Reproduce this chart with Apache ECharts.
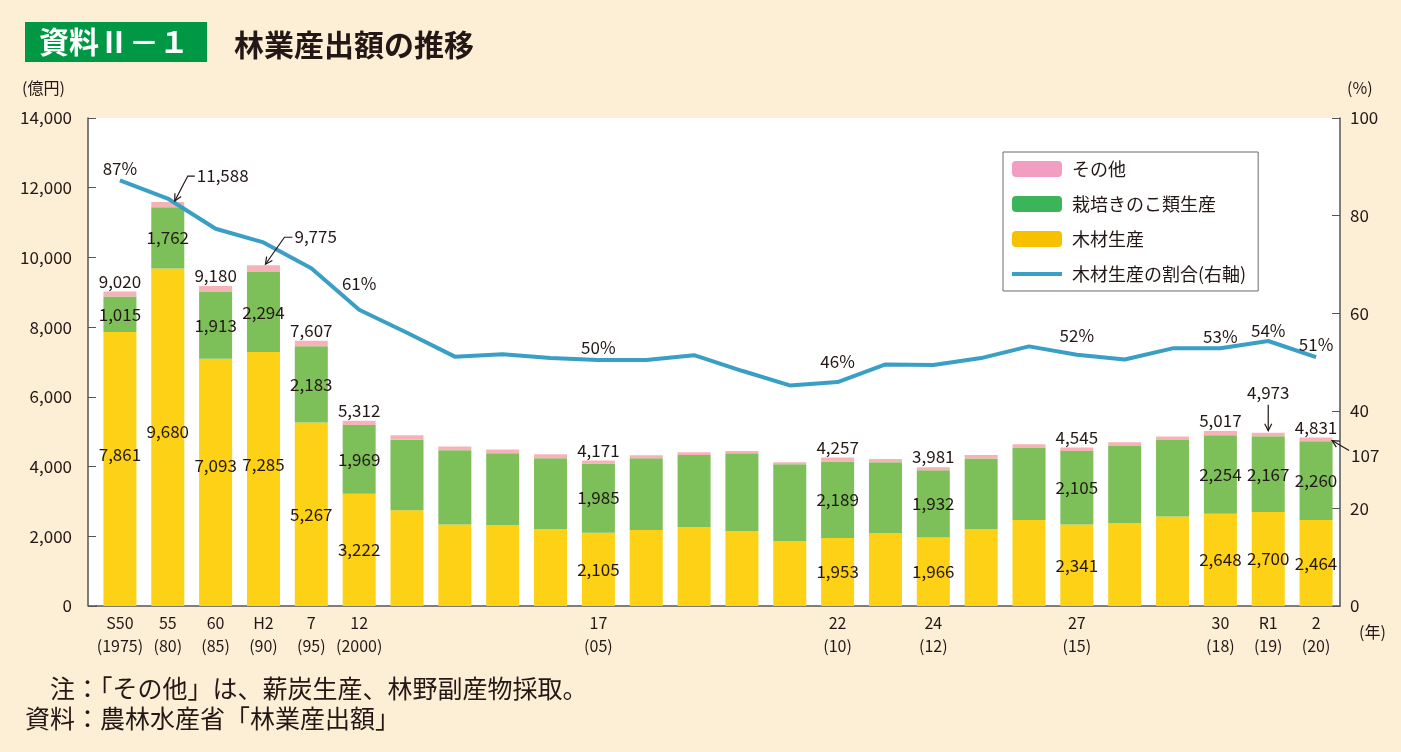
<!DOCTYPE html>
<html>
<head>
<meta charset="utf-8">
<script src="https://cdn.jsdelivr.net/npm/echarts@6/dist/echarts.min.js"></script>
<style>
  html, body { margin: 0; padding: 0; background: #fdeed6; }
  #main { width: 1401px; height: 752px; }
</style>
</head>
<body>
<div id="main"></div>
<script>
// categories (和暦 + 西暦)
var categories = ['S50\n(1975)', '55\n(80)', '60\n(85)', 'H2\n(90)', '7\n(95)', '12\n(2000)',
  '', '', '', '', '17\n(05)', '', '', '', '', '22\n(10)', '', '24\n(12)', '', '', '27\n(15)', '', '',
  '30\n(18)', 'R1\n(19)', '2\n(20)'];

// 億円
var wood = [7861, 9680, 7093, 7285, 5267, 3222, 2745, 2335, 2315, 2209, 2105, 2180, 2267, 2143, 1865,
  1953, 2086, 1966, 2200, 2467, 2341, 2373, 2565, 2648, 2700, 2464];
var mushroom = [1015, 1762, 1913, 2294, 2183, 1969, 2022, 2132, 2066, 2028, 1985, 2057, 2065, 2238, 2200,
  2189, 2036, 1932, 2028, 2066, 2105, 2217, 2197, 2254, 2167, 2260];
var other = [144, 146, 174, 196, 157, 121, 130, 106, 106, 115, 81, 86, 77, 66, 58,
  115, 95, 83, 104, 106, 99, 106, 98, 115, 106, 107];

// 木材生産の割合 (%)
var share = [87.2, 83.5, 77.3, 74.5, 69.2, 60.7, 56.0, 51.1, 51.6, 50.8, 50.4, 50.4, 51.4, 48.2, 45.2,
  45.9, 49.5, 49.4, 50.8, 53.2, 51.5, 50.5, 52.8, 52.8, 54.3, 51.0];

// which bars/points carry labels
var valueLabelIdx = [0, 1, 2, 3, 4, 5, 10, 15, 17, 20, 23, 24, 25];
var totalLabelIdx = [0, 2, 4, 5, 10, 15, 17, 20, 23, 25];
var shareLabelIdx = [0, 5, 10, 15, 20, 23, 24, 25];
// gap between line and its % label
var shareLabelGap = { 0: 3, 5: 18, 10: 4, 15: 12, 20: 11, 23: 3, 24: 2, 25: 4 };

var textColor = '#231815';
var font = '"Noto Sans CJK JP", "Noto Sans", sans-serif';

function fmt(v) {
  return v.toString().replace(/\B(?=(\d{3})+(?!\d))/g, ',');
}
function total(i) {
  return wood[i] + mushroom[i] + other[i];
}
function pick(idx) {
  return function (p) {
    return idx.indexOf(p.dataIndex) >= 0 ? fmt(p.value) : '';
  };
}

// wood labels on the tall early bars sit a bit above centre
var woodData = wood.map(function (v, i) {
  var dy = [-14, -6, -17, -14][i];
  return dy ? { value: v, label: { offset: [0, dy] } } : v;
});

var chart = echarts.init(document.getElementById('main'));

var option = {
  backgroundColor: '#fdeed6',
  textStyle: { fontFamily: font, color: textColor },
  animation: false,
  title: [
    {
      text: '資料Ⅱ－１', left: 25, top: 22,
      backgroundColor: '#009844', padding: [5, 18, 5, 14],
      textStyle: { color: '#fff', fontSize: 30, fontWeight: 'bold', fontFamily: font }
    },
    {
      text: '林業産出額の推移', left: 229, top: 25,
      textStyle: { color: textColor, fontSize: 30, fontWeight: 'bold', fontFamily: font }
    }
  ],
  legend: {
    orient: 'vertical', left: 1003, top: 152,
    backgroundColor: '#fff', borderColor: '#6b6b6b', borderWidth: 1,
    padding: [8, 12, 8, 9],
    itemWidth: 50, itemHeight: 16, itemGap: 17,
    textStyle: { fontSize: 18, color: textColor, fontFamily: font, padding: [0, 0, 0, 5] },
    data: [
      { name: 'その他', itemStyle: { color: '#f19ec2' } },
      { name: '栽培きのこ類生産', itemStyle: { color: '#3cb55a' } },
      { name: '木材生産', itemStyle: { color: '#f8c100' } },
      { name: '木材生産の割合(右軸)', icon: 'path://M0,0L0.01,0M0,6L50,6L50,10L0,10ZM50,16L49.99,16' }
    ]
  },
  grid: { left: 96, right: 61, top: 118, bottom: 146, show: false },
  xAxis: {
    type: 'category', data: categories,
    axisLine: { lineStyle: { color: '#555', width: 1.5 } },
    axisTick: { inside: true, length: 6, interval: 0, lineStyle: { color: '#555' } },
    axisLabel: { interval: 0, margin: 5, fontSize: 16, lineHeight: 23, color: textColor, fontFamily: font }
  },
  yAxis: [
    {
      type: 'value', min: 0, max: 14000, interval: 2000, offset: 8,
      axisLine: { show: true, lineStyle: { color: '#555', width: 1.5 } },
      axisTick: { show: true, inside: true, length: 8, lineStyle: { color: '#555' } },
      splitLine: { show: false },
      axisLabel: {
        margin: 16, fontSize: 17, color: textColor, fontFamily: font,
        formatter: function (v) { return fmt(v); }
      }
    },
    {
      type: 'value', min: 0, max: 100, interval: 20,
      axisLine: { show: true, lineStyle: { color: '#555', width: 1.5 } },
      axisTick: { show: true, inside: true, length: 8, lineStyle: { color: '#555' } },
      splitLine: { show: false },
      axisLabel: { margin: 10, fontSize: 17, color: textColor, fontFamily: font }
    }
  ],
  series: [
    {
      name: '木材生産', type: 'bar', stack: 'a', barWidth: 33,
      itemStyle: { color: '#fcd116' },
      label: { show: true, position: 'inside', fontSize: 17, color: textColor, fontFamily: font,
        formatter: pick(valueLabelIdx) },
      data: woodData
    },
    {
      name: '栽培きのこ類生産', type: 'bar', stack: 'a', barWidth: 33,
      itemStyle: { color: '#7dbf59' },
      label: { show: true, position: 'inside', fontSize: 17, color: textColor, fontFamily: font,
        formatter: pick(valueLabelIdx) },
      data: mushroom
    },
    {
      name: 'その他', type: 'bar', stack: 'a', barWidth: 33,
      itemStyle: { color: '#f5b3b7' },
      label: {
        show: true, position: 'top', distance: 2, fontSize: 17, color: textColor, fontFamily: font,
        formatter: function (p) {
          return totalLabelIdx.indexOf(p.dataIndex) >= 0 ? fmt(total(p.dataIndex)) : '';
        }
      },
      data: other
    },
    {
      name: '木材生産の割合(右軸)', type: 'line', yAxisIndex: 1,
      symbol: 'none', showSymbol: false, z: 5,
      lineStyle: { color: '#3a9fc4', width: 4 },
      itemStyle: { color: '#3a9fc4' },
      data: share
    },
    {
      // percentage labels riding on the line
      name: 'share-labels', type: 'scatter', yAxisIndex: 1, symbolSize: 0, z: 6,
      silent: true,
      itemStyle: { opacity: 1, color: '#3a9fc4' },
      label: {
        show: true, position: 'top', distance: 8, fontSize: 17, color: textColor, fontFamily: font,
        formatter: function (p) {
          return shareLabelIdx.indexOf(p.dataIndex) >= 0 ? Math.round(p.value) + '%' : '';
        }
      },
      data: share.map(function (v, i) {
        return shareLabelGap[i] !== undefined ? { value: v, label: { distance: shareLabelGap[i] } } : v;
      })
    }
  ]
};

chart.setOption(option);

// annotations placed from the chart's own scales
function pt(i, v) {
  return chart.convertToPixel({ xAxisIndex: 0, yAxisIndex: 0 }, [i, v]);
}
function arrowHead(from, tip) {
  var dx = tip[0] - from[0], dy = tip[1] - from[1];
  var len = Math.sqrt(dx * dx + dy * dy);
  var ux = dx / len, uy = dy / len, nx = -uy, ny = ux;
  return {
    type: 'polyline', z: 20,
    shape: { points: [[tip[0] - 7 * ux + 3.5 * nx, tip[1] - 7 * uy + 3.5 * ny], tip,
      [tip[0] - 7 * ux - 3.5 * nx, tip[1] - 7 * uy - 3.5 * ny]] },
    style: { stroke: textColor, lineWidth: 1.2, fill: null }
  };
}
function leader(points) {
  return {
    type: 'polyline', z: 20,
    shape: { points: points },
    style: { stroke: textColor, lineWidth: 1.2, fill: null }
  };
}
function note(text, x, y, align) {
  return {
    type: 'text', z: 20, x: x, y: y,
    style: { text: text, fill: textColor, font: '17px ' + font, align: align || 'left', verticalAlign: 'middle' }
  };
}

var g = [];
// white plot area + axis stub to the left of the first category
g.push({ type: 'rect', z: -10, shape: { x: 88, y: 118, width: 1252, height: 488 }, style: { fill: '#fff' } });
g.push({ type: 'line', z: 10, shape: { x1: 88, y1: 606, x2: 97, y2: 606 }, style: { stroke: '#555', lineWidth: 1.5 } });

var a = pt(1, total(1));
var a1 = [a[0] + 7, a[1] - 1], a2 = [a[0] + 20, a[1] - 26], a3 = [a[0] + 27, a[1] - 26];
g.push(leader([a3, a2, a1]), arrowHead(a2, a1), note(fmt(total(1)), a3[0] + 2, a3[1] - 1));

var b = pt(3, total(3));
var b1 = [b[0] + 2, b[1] - 1], b2 = [b[0] + 21, b[1] - 28], b3 = [b[0] + 29, b[1] - 28];
g.push(leader([b3, b2, b1]), arrowHead(b2, b1), note(fmt(total(3)), b3[0] + 2, b3[1] - 1));

var c = pt(24, total(24));
var c1 = [c[0], c[1] - 2], c2 = [c[0], c[1] - 28];
g.push(leader([c2, c1]), arrowHead(c2, c1), note(fmt(total(24)), c[0], c[1] - 40, 'center'));

var d = pt(25, total(25));
var d1 = [d[0] + 16, d[1] + 3], d2 = [d[0] + 33, d[1] + 13];
g.push(leader([d2, d1]), arrowHead(d2, d1), note(fmt(other[25]), d2[0] + 2, d2[1] + 5));

// units and footnotes
g.push({ type: 'text', x: 22, y: 88, style: { text: '(億円)', fill: textColor, font: '16px ' + font, verticalAlign: 'middle' } });
g.push({ type: 'text', x: 1347, y: 88, style: { text: '(%)', fill: textColor, font: '16px ' + font, verticalAlign: 'middle' } });
g.push({ type: 'text', x: 1359, y: 632, style: { text: '(年)', fill: textColor, font: '16px ' + font, verticalAlign: 'middle' } });
g.push({ type: 'text', x: 50, y: 688, style: { text: '注：「その他」は、薪炭生産、林野副産物採取。', fill: textColor, font: '25px ' + font, verticalAlign: 'middle' } });
g.push({ type: 'text', x: 25, y: 718, style: { text: '資料：農林水産省「林業産出額」', fill: textColor, font: '25px ' + font, verticalAlign: 'middle' } });

chart.setOption({ graphic: g });
</script>
</body>
</html>
